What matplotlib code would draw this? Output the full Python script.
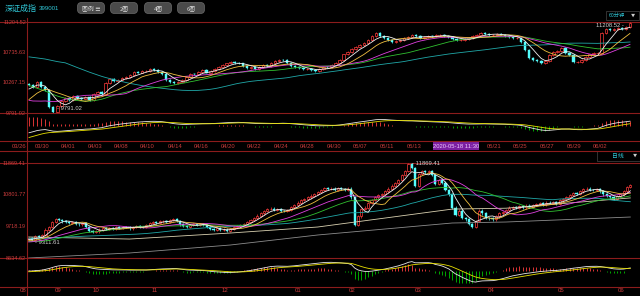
import numpy as np
import pandas as pd
import matplotlib
matplotlib.use('Agg')
import matplotlib.pyplot as plt
from matplotlib.patches import FancyBboxPatch, Rectangle

plt.rcParams['font.family'] = ['Noto Sans CJK SC', 'DejaVu Sans']

W, H = 640, 296
RED = '#ff3c3c'
CYAN = '#54fcfc'
GRID = '#8c1c1c'
LBL = '#c83c3c'
NUMFONT = ['Liberation Sans', 'DejaVu Sans']

# ---------------- data ----------------
# 60分钟 K线 (收盘价)，前面一段只用来算均线/MACD
hour_hist = [11500, 11520, 11480, 11450, 11470, 11420, 11400, 11380, 11350, 11360,
             11300, 11280, 11250, 11200, 11220, 11180, 11150, 11100, 11120, 11050,
             11000, 10950, 10900, 10820, 10750, 10700, 10650, 10600, 10550, 10500,
             10450, 10400, 10300, 10200, 10100, 10000, 9900, 9800, 9720, 9680,
             9650, 9700, 9780, 9850, 9900, 9950, 10050, 10120, 10180, 10240]
hour_close = [10230, 10200, 10270, 10190, 10150, 9880, 9810, 9900, 9980, 10020,
              10000, 10050, 10030, 10010, 10040, 10000, 10080, 10110, 10090, 10250,
              10320, 10290, 10310, 10330, 10350, 10380, 10430, 10420, 10440, 10450,
              10470, 10460, 10430, 10400, 10300, 10270, 10250, 10280, 10300, 10350,
              10400, 10390, 10430, 10460, 10420, 10440, 10480, 10510, 10540, 10560,
              10580, 10570, 10560, 10520, 10490, 10500, 10480, 10500, 10530, 10520,
              10570, 10600, 10620, 10610, 10570, 10520, 10500, 10490, 10470, 10480,
              10460, 10440, 10480, 10510, 10500, 10540, 10570, 10620, 10700, 10740,
              10780, 10815, 10850, 10880, 10930, 10990, 11030, 10990, 10960, 10920,
              10900, 10910, 10930, 10950, 10970, 11000, 10980, 10960, 10970, 10990,
              10980, 11000, 11000, 10990, 10970, 10940, 10920, 10930, 10940, 10950,
              10980, 11010, 11030, 11020, 11000, 11010, 11020, 11010, 10990, 10970,
              10950, 10960, 10890, 10770, 10640, 10620, 10600, 10560, 10600, 10690,
              10740, 10760, 10800, 10720, 10690, 10580, 10590, 10620, 10660, 10700,
              10720, 10730, 11030, 11090, 11080, 11100, 11110, 11090, 11130, 11190]

# 日线 K线 (收盘价)
day_hist = [9450, 9480, 9500, 9470, 9420, 9400, 9380, 9350, 9400, 9420,
            9450, 9480, 9500, 9520, 9480, 9450, 9420, 9400, 9380, 9350,
            9300, 9280, 9320, 9350, 9380, 9400, 9420, 9450, 9430, 9400,
            9380, 9350, 9320, 9300, 9280, 9250, 9220, 9200, 9180, 9150,
            9120, 9100, 9080, 9050, 9080, 9100, 9120, 9150, 9180, 9200,
            9220, 9250, 9230, 9200, 9180, 9160, 9200, 9250, 9280, 9290]
day_close = [9300, 9250, 9380, 9350, 9420, 9600, 9700, 9850, 9960, 9930,
             9880, 9850, 9820, 9860, 9800, 9780, 9820, 9700, 9560, 9520,
             9540, 9600, 9650, 9620, 9660, 9640, 9680, 9650, 9700, 9680,
             9640, 9690, 9720, 9700, 9680, 9750, 9820, 9860, 9840, 9880,
             9900, 9870, 9920, 9950, 9900, 9780, 9720, 9700, 9760, 9800,
             9750, 9790, 9760, 9700, 9620, 9600, 9640, 9580, 9600, 9560,
             9620, 9680, 9720, 9760, 9800, 9860, 9930, 10000, 10080, 10150,
             10230, 10300, 10320, 10260, 10300, 10240, 10230, 10260, 10380, 10450,
             10520, 10600, 10640, 10700, 10760, 10820, 10880, 10950, 11020, 10980,
             11000, 10960, 11010, 10980, 10950, 11000, 10700, 9750, 10050, 10300,
             10350, 10500, 10600, 10700, 10780, 10820, 10900, 11000, 11100, 11180,
             11300, 11450, 11600, 11820, 11700, 11100, 11500, 11580, 11550, 11600,
             11450, 11150, 11300, 11200, 10950, 10800, 10350, 10100, 10250, 10000,
             9950, 9800, 9700, 9900, 10250, 10150, 10000, 9980, 9950, 10050,
             10150, 10200, 10280, 10350, 10380, 10340, 10400, 10360, 10420, 10380,
             10450, 10480, 10500, 10460, 10520, 10500, 10550, 10480, 10600, 10650,
             10700, 10780, 10850, 10820, 10900, 10980, 11000, 10960, 10950, 10980,
             10900, 10800, 10750, 10700, 10650, 10750, 10800, 10900, 11050, 11120]

# 长周期均线 (从图上读的几个点)
day_long_idx = [0, 30, 60, 86, 126, 142, 179]
day_ma120 = [9350, 9280, 9485, 9690, 10300, 10330, 10680]
day_ma250 = [8635, 8805, 9077, 9418, 9826, 9860, 10030]

hour_ylabels = ['11204.52', '10735.63', '10267.15', '9791.02']
day_ylabels = ['11869.41', '10801.77', '9718.19', '8634.62']
hour_dates = ['03/26', '03/30', '04/01', '04/03', '04/08', '04/10', '04/14', '04/16',
              '04/20', '04/22', '04/24', '04/28', '04/30', '05/07', '05/11', '05/13',
              '05/21', '05/25', '05/27', '05/29', '06/02']
hour_cursor = '2020-05-18 11:30'
day_months = ['08', '09', '10', '11', '12', '01', '02', '03', '04', '05', '06']
hour_hi_text, hour_lo_text = '11208.52', '9791.02'
day_hi_text, day_lo_text = '11869.41', '9311.61'

MA_COLORS = {5: '#f0f0f0', 10: '#f0c040', 20: '#e040e0', 30: '#30c030', 60: '#20a8a8'}


def px(x0, y0, x1, y1):
    return [x0 / W, 1 - y1 / H, (x1 - x0) / W, (y1 - y0) / H]


def draw_candles(ax, hist, closes, wick):
    closes = np.array(closes, dtype=float)
    opens = np.concatenate([[hist[-1]], closes[:-1]])
    x = np.arange(len(closes))
    up = closes >= opens
    top = np.maximum(opens, closes)
    bot = np.minimum(opens, closes)
    hi, lo = top + wick, bot - wick
    body = np.maximum(top - bot, wick * 0.3)
    ax.vlines(x[up], lo[up], hi[up], color=RED, lw=0.5, zorder=2)
    ax.vlines(x[~up], lo[~up], hi[~up], color=CYAN, lw=0.5, zorder=2)
    ax.bar(x[up], body[up], bottom=bot[up], width=0.62, facecolor='black',
           edgecolor=RED, lw=0.5, zorder=3)
    ax.bar(x[~up], body[~up], bottom=bot[~up], width=0.62, facecolor=CYAN,
           edgecolor=CYAN, lw=0.3, zorder=3)
    return hi, lo


def draw_mas(ax, hist, closes, periods):
    s = pd.Series(list(hist) + list(closes), dtype=float)
    n = len(hist)
    x = np.arange(len(closes))
    for p in periods:
        ax.plot(x, s.rolling(p, min_periods=1).mean().to_numpy()[n:],
                color=MA_COLORS[p], lw=0.6, zorder=4)


def draw_macd(ax, hist, closes):
    s = pd.Series(list(hist) + list(closes), dtype=float)
    n = len(hist)
    dif = s.ewm(span=12, adjust=False).mean() - s.ewm(span=26, adjust=False).mean()
    dea = dif.ewm(span=9, adjust=False).mean()
    bar = (2 * (dif - dea)).to_numpy()[n:]
    dif, dea = dif.to_numpy()[n:], dea.to_numpy()[n:]
    x = np.arange(len(closes))
    pos = bar >= 0
    ax.vlines(x[pos], 0, bar[pos], color=RED, lw=0.6)
    ax.vlines(x[~pos], 0, bar[~pos], color='#00c000', lw=0.6)
    ax.plot(x, dif, color='#e8e8e8', lw=0.6)
    ax.plot(x, dea, color='#e8e000', lw=0.6)
    lo = min(bar.min(), dif.min(), dea.min())
    hi = max(bar.max(), dif.max(), dea.max())
    pad = (hi - lo) * 0.12
    ax.set_ylim(lo - pad, hi + pad)
    ax.set_xlim(-0.5, len(closes) - 0.5)


def price_axes(rect_px, ytop_px, ybot_px, labels, n):
    x0, y0, x1, y1 = rect_px
    ax = fig.add_axes(px(x0, y0, x1, y1))
    ax.patch.set_alpha(0)
    vals = [float(v) for v in labels]
    scale = (vals[0] - vals[-1]) / (ybot_px - ytop_px)
    ax.set_ylim(vals[-1] - scale * (y1 - ybot_px), vals[-1] + scale * (ybot_px - y0))
    ax.set_xlim(-0.5, n - 0.5)
    ax.set_yticks(vals)
    ax.set_yticklabels(labels, fontfamily=NUMFONT)
    ax.tick_params(axis='y', length=0, pad=0.8, labelsize=4.0, labelcolor=LBL)
    ax.set_xticks([])
    for sp in ax.spines.values():
        sp.set_visible(False)
    return ax


def plain_axes(rect_px):
    ax = fig.add_axes(px(*rect_px))
    ax.patch.set_alpha(0)
    ax.axis('off')
    return ax


fig = plt.figure(figsize=(W / 100, H / 100), dpi=100, facecolor='black')

# 背景层：网格线、文字、按钮
bg = fig.add_axes([0, 0, 1, 1])
bg.set_xlim(0, W)
bg.set_ylim(H, 0)
bg.axis('off')
bg.set_facecolor('black')

for yy in [22, 113, 141, 151, 163, 258, 287]:
    bg.plot([0, W], [yy, yy], color=GRID, lw=0.8)
bg.plot([27, 27], [18, H], color=GRID, lw=0.8)

bg.text(5, 8, '深证成指', color='#30c8d8', fontsize=5.8, va='center', ha='left')
bg.text(39, 8, '399001', color='#30c8d8', fontsize=4.4, va='center', ha='left',
        fontfamily=NUMFONT)
for (bx, txt) in [(77, '图例 ≡'), (110, '2图'), (144, '4图'), (177, '6图')]:
    bg.add_patch(FancyBboxPatch((bx + 2, 4), 24, 8, boxstyle='round,pad=1.5,rounding_size=4',
                                facecolor='#4a4a4a', edgecolor='#6a6a6a', lw=0.5))
    bg.text(bx + 14, 8, txt, color='#dcdcdc', fontsize=4.2, ha='center', va='center')

bg.add_patch(Rectangle((606, 11), 33, 9, facecolor='black', edgecolor='#3a3a3a', lw=0.6))
bg.text(617, 15.5, '60分钟', color='#30c8d8', fontsize=3.8, ha='center', va='center')
bg.text(633, 15.5, '▼', color='#cccccc', fontsize=3, ha='center', va='center')
bg.add_patch(Rectangle((597, 151), 44, 10, facecolor='black', edgecolor='#3a3a3a', lw=0.6))
bg.text(618, 156, '日线', color='#30c8d8', fontsize=4.2, ha='center', va='center')
bg.text(635, 156, '▼', color='#cccccc', fontsize=3, ha='center', va='center')

hour_date_x = [19.5, 42, 68, 95, 121, 147, 175, 201, 228, 254, 281, 307, 334, 360,
               387, 414, 494, 520, 547, 574, 600]
for xx, t in zip(hour_date_x, hour_dates):
    bg.text(xx, 146, t, color=LBL, fontsize=4.2, ha='center', va='center', fontfamily=NUMFONT)
bg.add_patch(Rectangle((433, 141.5), 46, 8.5, facecolor='#7b1fa2', edgecolor='none'))
bg.text(456, 146, hour_cursor, color='#f0c8ff', fontsize=4.2, ha='center', va='center',
        fontfamily=NUMFONT)

month_x = [23, 58, 96, 155, 225, 298, 352, 418, 491, 561, 621]
for xx, t in zip(month_x, day_months):
    bg.text(xx, 291, t, color=LBL, fontsize=4.4, ha='center', va='center', fontfamily=NUMFONT)

# ---------------- 60分钟 ----------------
nh = len(hour_close)
ax1 = price_axes((27, 16, 632, 113), 22, 113, hour_ylabels, nh)
draw_mas(ax1, hour_hist, hour_close, [60, 30, 20, 10, 5])
hi1, lo1 = draw_candles(ax1, hour_hist, hour_close, 15)
imax, imin = int(np.argmax(hi1)), int(np.argmin(lo1))
ax1.text(imax - 1.5, hi1[imax] - 60, hour_hi_text + ' -', color='#d0d0d0', fontsize=4.2,
         ha='right', va='center', fontfamily=NUMFONT)
ax1.text(imin + 1, lo1[imin] + 60, '- ' + hour_lo_text, color='#d0d0d0', fontsize=4.2,
         ha='left', va='center', fontfamily=NUMFONT)

m1 = plain_axes((27, 114, 632, 140))
draw_macd(m1, hour_hist, hour_close)

# ---------------- 日线 ----------------
nd = len(day_close)
ax2 = price_axes((27, 155, 632, 258), 163, 258, day_ylabels, nd)
ax2.plot(day_long_idx, day_ma250, color='#8c8c8c', lw=0.6, zorder=4)
ax2.plot(day_long_idx, day_ma120, color='#d8d0b0', lw=0.6, zorder=4)
draw_mas(ax2, day_hist, day_close, [60, 30, 20, 10, 5])
hi2, lo2 = draw_candles(ax2, day_hist, day_close, 40)
imax, imin = int(np.argmax(hi2)), int(np.argmin(lo2[:30]))
ax2.text(imax + 1, hi2[imax], '- ' + day_hi_text, color='#d0d0d0', fontsize=4.2,
         ha='left', va='center', fontfamily=NUMFONT)
ax2.text(imin + 1, lo2[imin] - 40, '- ' + day_lo_text, color='#d0d0d0', fontsize=4.2,
         ha='left', va='center', fontfamily=NUMFONT)

m2 = plain_axes((27, 259, 632, 286))
draw_macd(m2, day_hist, day_close)

fig.savefig('out.png', dpi=100, facecolor='black')
